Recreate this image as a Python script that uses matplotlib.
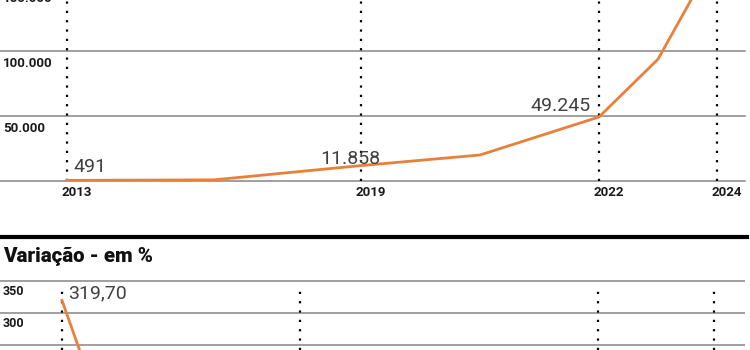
import numpy as np
import matplotlib
matplotlib.use('Agg')
import matplotlib.pyplot as plt
from matplotlib.lines import Line2D

plt.rcParams['font.family'] = ['Roboto', 'DejaVu Sans']

# Top panel: accumulated values
top_years = [2013, 2016, 2019, 2020.5, 2022, 2023, 2024]
top_values = [491, 900, 11858, 20000, 49245, 93700, 175000]
top_labeled = [2013, 2019, 2022]
top_ticks = [2013, 2019, 2022, 2024]
top_grid = [50000, 100000, 150000]

# Bottom panel: yearly variation in %
var_title = 'Variação - em %'
var_years = [2013, 2014]
var_values = [319.70, 144.0]
var_marks = [2013, 2019, 2022, 2024]
var_grid = [250, 300, 350]

ORANGE = '#E9803A'
GRID = '#858585'
W, H = 750, 350


def piecewise(bp_years, bp_pos):
    # uneven time axis of the original graphic
    yrs = np.array(bp_years, float)
    pos = np.array(bp_pos, float)
    s0 = (pos[1] - pos[0]) / (yrs[1] - yrs[0])
    s1 = (pos[-1] - pos[-2]) / (yrs[-1] - yrs[-2])
    yrs = np.r_[yrs[0] - 100, yrs, yrs[-1] + 100]
    pos = np.r_[pos[0] - 100 * s0, pos, pos[-1] + 100 * s1]
    return (lambda x: np.interp(x, yrs, pos)), (lambda p: np.interp(p, pos, yrs))


def thousands(v):
    return f'{v:,.0f}'.replace(',', '.')


fig = plt.figure(figsize=(W / 100, H / 100), dpi=100)

# ---- top panel
ax = fig.add_axes([0, (H - 181) / H, 745 / W, 181 / H])
fwd, inv = piecewise(top_ticks, [67, 361, 599, 717])
ax.set_xscale('function', functions=(fwd, inv))
ax.set_xlim(inv(0), inv(745))
ax.set_ylim(0, 181 / 65 * 50000)
ax.axis('off')

for v in [0] + top_grid:
    ax.axhline(v, color=GRID, lw=1.1, clip_on=False, zorder=1)
for v in top_grid:
    ax.annotate(thousands(v), xy=(0, v), xycoords=('axes fraction', 'data'),
                xytext=(3, -6), textcoords='offset pixels', ha='left', va='top',
                fontsize=9.5, fontweight='bold', color='#1a1a1a', annotation_clip=False)
for yr in top_ticks:
    ax.axvline(yr, color='black', lw=1.6, ls=(0, (1, 3.2)), zorder=2)
    ax.annotate(str(yr), xy=(yr, 0), xycoords=('data', 'axes fraction'),
                xytext=(10, -12), textcoords='offset pixels', ha='center', va='center',
                fontsize=9.5, fontweight='bold', color='#1a1a1a', annotation_clip=False)

ax.plot(top_years, top_values, color=ORANGE, lw=2.0, zorder=3, solid_joinstyle='round')

label_style = {2013: ('left', (6, 8)), 2019: ('center', (-11, 2)), 2022: ('right', (-8, 6))}
for yr in top_labeled:
    v = top_values[top_years.index(yr)]
    ha, off = label_style[yr]
    ax.annotate(thousands(v), xy=(yr, v), xytext=off, textcoords='offset pixels',
                ha=ha, va='baseline', fontsize=14, color='#404040')

# ---- separator and title
fig.add_artist(Line2D([0, 747 / W], [(H - 237) / H] * 2, color='black', lw=3))
fig.text(3 / W, (H - 262) / H, var_title, ha='left', va='baseline',
         fontsize=14.8, fontweight='black', color='#111111')

# ---- bottom panel
bx = fig.add_axes([0, 0, 745 / W, 80 / H])
fwd2, inv2 = piecewise(var_marks, [62, 300, 598, 714])
bx.set_xscale('function', functions=(fwd2, inv2))
bx.set_xlim(inv2(0), inv2(745))
bx.set_ylim(350 - 69 / 32 * 50, 350 + 11 / 32 * 50)
bx.axis('off')

for v in var_grid:
    bx.axhline(v, color=GRID, lw=1.1, zorder=1)
    bx.annotate(str(v), xy=(0, v), xycoords=('axes fraction', 'data'),
                xytext=(3, -4), textcoords='offset pixels', ha='left', va='top',
                fontsize=9, fontweight='bold', color='#1a1a1a')
for yr in var_marks:
    bx.axvline(yr, ymax=0.775, color='black', lw=1.6, ls=(0, (1, 3.2)), zorder=2)

bx.plot(var_years, var_values, color=ORANGE, lw=2.0, zorder=3)
bx.annotate(f'{var_values[0]:.2f}'.replace('.', ','), xy=(var_years[0], var_values[0]),
            xytext=(6, 2), textcoords='offset pixels', ha='left', va='baseline',
            fontsize=14, color='#404040')

fig.savefig('out.png', dpi=100)
